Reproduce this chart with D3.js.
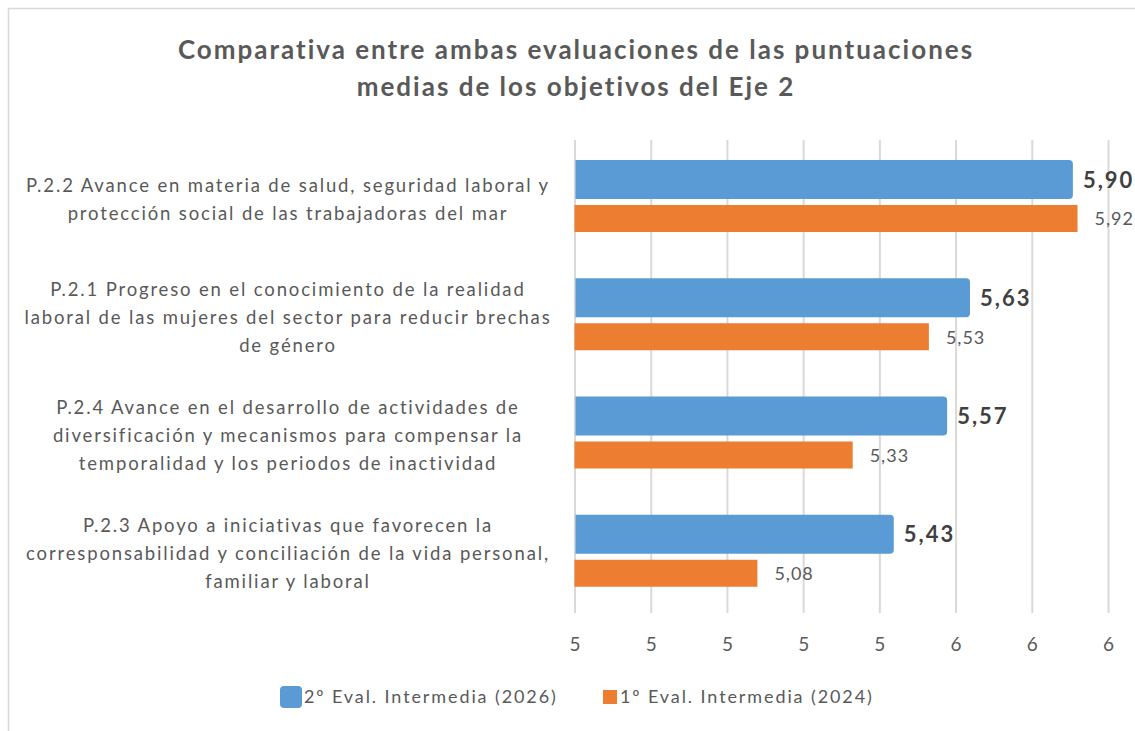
<!DOCTYPE html>
<html lang="es">
<head>
  <meta charset="UTF-8">
  <title>Comparativa Eje 2</title>
  <script src="https://d3js.org/d3.v7.min.js"></script>
  <style>
    body {
      margin: 0;
      background: #fff;
    }
    svg text {
      font-family: Lato, "Open Sans", sans-serif;
    }
  </style>
</head>
<body>
  <svg width="1135" height="731"></svg>

  <script>
  // chart values (top to bottom)
  const categories = ["P.2.2", "P.2.1", "P.2.4", "P.2.3"];
  const categoryLines = [
    ["P.2.2 Avance en materia de salud, seguridad laboral y", "protección social de las trabajadoras del mar"],
    ["P.2.1 Progreso en el conocimiento de la realidad", "laboral de las mujeres del sector para reducir brechas", "de género"],
    ["P.2.4 Avance en el desarrollo de actividades de", "diversificación y mecanismos para compensar la", "temporalidad y los periodos de inactividad"],
    ["P.2.3 Apoyo a iniciativas que favorecen la", "corresponsabilidad y conciliación de la vida personal,", "familiar y laboral"]
  ];
  const eval2026 = [5.90, 5.63, 5.57, 5.43];
  const eval2024 = [5.92, 5.53, 5.33, 5.08];
  const tickValues = [4.6, 4.8, 5.0, 5.2, 5.4, 5.6, 5.8, 6.0];
  const seriesNames = ["2º Eval. Intermedia (2026)", "1º Eval. Intermedia (2024)"];
  const titleLines = ["Comparativa entre ambas evaluaciones de las puntuaciones", "medias de los objetivos del Eje 2"];

  const blue = "#5b9bd5";
  const orange = "#ed7d31";
  const grey = "#595959";

  const svg = d3.select("svg");

  // outer chart border (runs off to the right and bottom)
  svg.append("path")
    .attr("d", "M8.5,740 V8.5 H1140")
    .attr("fill", "none")
    .attr("stroke", "#d9d9d9")
    .attr("stroke-width", 1.5);

  // title
  svg.append("g").selectAll("text")
    .data(titleLines)
    .join("text")
    .attr("x", 576)
    .attr("y", (d, i) => 59 + i * 37)
    .attr("text-anchor", "middle")
    .attr("font-size", "26px")
    .attr("font-weight", "bold")
    .attr("letter-spacing", "2px")
    .attr("fill", grey)
    .text(d => d);

  const plotTop = 140, plotBottom = 613;

  const x = d3.scaleLinear().domain([4.6, 6.0]).range([574.5, 1108]);
  const y = d3.scaleBand().domain(categories).range([plotTop, plotBottom]);

  // grid lines + tick labels
  const axis = svg.append("g")
    .attr("transform", `translate(0,${plotBottom})`)
    .call(d3.axisBottom(x)
      .tickValues(tickValues)
      .tickFormat(d3.format(".0f"))
      .tickSize(-(plotBottom - plotTop))
      .tickPadding(25));
  axis.select(".domain").remove();
  axis.selectAll(".tick line").attr("stroke", "#d9d9d9").attr("stroke-width", 2);
  axis.selectAll(".tick text")
    .attr("fill", grey)
    .attr("font-size", "19px")
    .attr("font-family", "Lato, sans-serif");

  // category labels
  const labelGroups = svg.append("g").selectAll("text")
    .data(categories)
    .join("text")
    .attr("text-anchor", "middle")
    .attr("fill", grey)
    .attr("font-size", "18.5px")
    .attr("letter-spacing", "1.85px");
  labelGroups.each(function(c, i) {
    const lines = categoryLines[i];
    const cy = y(c) + y.bandwidth() / 2;
    const lh = 28;
    d3.select(this).selectAll("tspan")
      .data(lines)
      .join("tspan")
      .attr("x", 288)
      .attr("y", (d, j) => cy + (j - (lines.length - 1) / 2) * lh)
      .attr("dy", "0.35em")
      .text(d => d);
  });

  // blue bars: rounded right end
  function roundedRight(x0, x1, y0, y1, r) {
    const p = d3.path();
    p.moveTo(x0, y0);
    p.lineTo(x1 - r, y0);
    p.arcTo(x1, y0, x1, y0 + r, r);
    p.lineTo(x1, y1 - r);
    p.arcTo(x1, y1, x1 - r, y1, r);
    p.lineTo(x0, y1);
    p.closePath();
    return p.toString();
  }

  svg.append("g").selectAll("path")
    .data(eval2026)
    .join("path")
    .attr("d", (d, i) => {
      const b = y(categories[i]);
      return roundedRight(x(4.6) + 1, x(d) + 3, b + 20, b + 59, 4);
    })
    .attr("fill", blue);

  svg.append("g").selectAll("rect")
    .data(eval2024)
    .join("rect")
    .attr("x", x(4.6))
    .attr("y", (d, i) => y(categories[i]) + 65)
    .attr("width", d => x(d) - x(4.6))
    .attr("height", 27)
    .attr("fill", orange);

  const fmt = v => d3.format(".2f")(v).replace(".", ",");

  // value labels
  svg.append("g").selectAll("text")
    .data(eval2026)
    .join("text")
    .attr("x", d => x(d) + 13)
    .attr("y", (d, i) => y(categories[i]) + 40)
    .attr("dy", "0.35em")
    .attr("font-size", "22px")
    .attr("font-weight", "bold")
    .attr("letter-spacing", "2px")
    .attr("fill", "#404040")
    .text(fmt);

  svg.append("g").selectAll("text")
    .data(eval2024)
    .join("text")
    .attr("x", d => x(d) + 17)
    .attr("y", (d, i) => y(categories[i]) + 79)
    .attr("dy", "0.35em")
    .attr("font-size", "18px")
    .attr("letter-spacing", "1px")
    .attr("fill", grey)
    .text(fmt);

  // legend
  const legend = svg.append("g");
  legend.append("rect")
    .attr("x", 280).attr("y", 686)
    .attr("width", 22).attr("height", 22)
    .attr("rx", 4)
    .attr("fill", blue);
  legend.append("rect")
    .attr("x", 603).attr("y", 690)
    .attr("width", 14).attr("height", 14)
    .attr("fill", orange);
  legend.selectAll("text")
    .data(seriesNames)
    .join("text")
    .attr("x", (d, i) => i === 0 ? 304 : 620)
    .attr("y", 697)
    .attr("dy", "0.35em")
    .attr("font-size", "18px")
    .attr("letter-spacing", "1.9px")
    .attr("fill", grey)
    .text(d => d);
  </script>
</body>
</html>
